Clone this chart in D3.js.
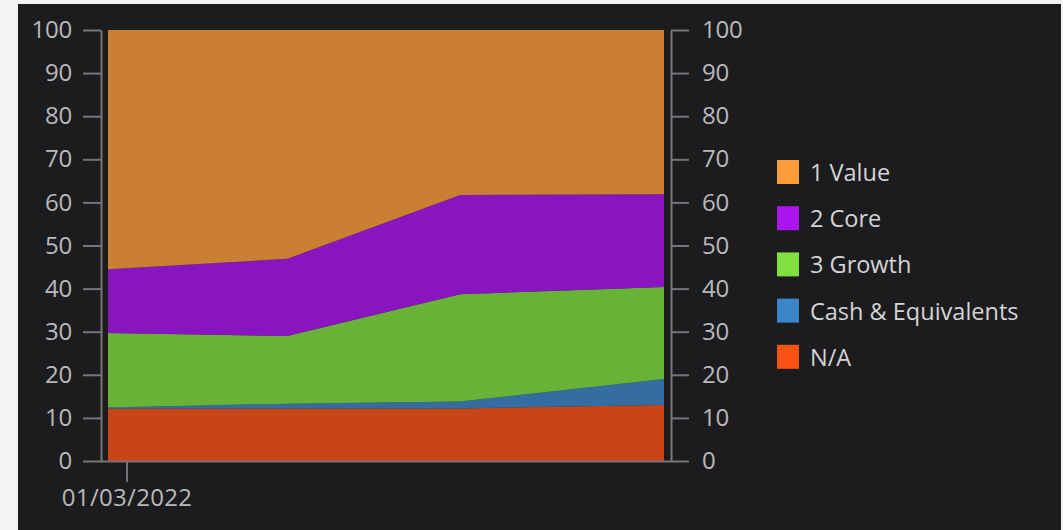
<!DOCTYPE html>
<html>
<head>
<meta charset="utf-8">
<script src="https://cdn.jsdelivr.net/npm/d3@7"></script>
<style>
  html, body { margin: 0; padding: 0; background: #f3f3f3; }
  svg { display: block; }
  text { font-family: "Open Sans", sans-serif; }
</style>
</head>
<body>
<div id="chart"></div>
<script>
// data (percent of portfolio, stacked bottom to top)
var dates = ["2021-12-31", "2022-01-29", "2022-02-26", "2022-03-31"];
var seriesNames = ["N/A", "Cash & Equivalents", "3 Growth", "2 Core", "1 Value"];
var naValues = [12.1, 12.2, 12.2, 13.0];
var cashValues = [0.3, 1.1, 1.6, 6.0];
var growthValues = [17.3, 15.7, 24.9, 21.4];
var coreValues = [14.8, 17.9, 23.0, 21.5];
var valueValues = [55.5, 53.1, 38.3, 38.1];
var yTicks = [0, 10, 20, 30, 40, 50, 60, 70, 80, 90, 100];
var xTickDates = ["2022-01-03"];
var legendOrder = ["1 Value", "2 Core", "3 Growth", "Cash & Equivalents", "N/A"];

var colors = {
    "1 Value": "#ff9d38",
    "2 Core": "#a914ef",
    "3 Growth": "#7fe03f",
    "Cash & Equivalents": "#3a86c8",
    "N/A": "#fb5214"
};

var width = 1063, height = 530;
var parse = d3.timeParse("%Y-%m-%d");
var fmt = d3.timeFormat("%m/%d/%Y");

// build rows for the stack
var rows = dates.map(function(d, i){
    return {
        date: parse(d),
        "N/A": naValues[i],
        "Cash & Equivalents": cashValues[i],
        "3 Growth": growthValues[i],
        "2 Core": coreValues[i],
        "1 Value": valueValues[i]
    };
});

var svg = d3.select("#chart").append("svg")
    .attr("width", width)
    .attr("height", height);

// dark panel
svg.append("rect")
    .attr("x", 18).attr("y", 4)
    .attr("width", 1043).attr("height", height - 4)
    .attr("fill", "#1c1c1e");

var x = d3.scaleTime()
    .domain(d3.extent(rows, function(d){ return d.date; }))
    .range([108, 664]);

var y = d3.scaleLinear()
    .domain([0, 100])
    .range([461, 30]);

var stack = d3.stack().keys(seriesNames);
var layers = stack(rows);

var area = d3.area()
    .x(function(d){ return x(d.data.date); })
    .y0(function(d){ return y(d[0]); })
    .y1(function(d){ return y(d[1]); });

svg.append("g")
    .selectAll("path")
    .data(layers)
    .enter()
    .append("path")
    .attr("d", area)
    .attr("fill", function(d){ return colors[d.key]; })
    .attr("fill-opacity", 0.77);

var axisColor = "#76767a";
var labelColor = "#b9b9bb";

// left axis
var leftAxis = svg.append("g")
    .attr("transform", "translate(101,0)")
    .call(d3.axisLeft(y).tickValues(yTicks).tickSize(18).tickPadding(11).tickSizeOuter(0));

// right axis
var rightAxis = svg.append("g")
    .attr("transform", "translate(671,0)")
    .call(d3.axisRight(y).tickValues(yTicks).tickSize(18).tickPadding(13).tickSizeOuter(0));

// bottom axis
var bottomAxis = svg.append("g")
    .attr("transform", "translate(0,461)")
    .call(d3.axisBottom(x)
        .tickValues(xTickDates.map(parse))
        .tickFormat(fmt)
        .tickSize(21)
        .tickPadding(7)
        .tickSizeOuter(0));
bottomAxis.select(".domain").attr("d", "M101,0.5H671");

[leftAxis, rightAxis, bottomAxis].forEach(function(g){
    g.selectAll(".domain").attr("stroke", axisColor).attr("stroke-width", 2);
    g.selectAll(".tick line").attr("stroke", axisColor).attr("stroke-width", 2);
    g.selectAll(".tick text")
        .attr("fill", labelColor)
        .style("font-size", "24px")
        .style("letter-spacing", "-0.2px");
});
bottomAxis.selectAll(".tick text").style("letter-spacing", "0.3px");

// legend
var legend = svg.append("g")
    .selectAll("g")
    .data(legendOrder)
    .enter()
    .append("g")
    .attr("transform", function(d, i){ return "translate(777," + (160 + i * 46.2) + ")"; });

legend.append("rect")
    .attr("width", 22)
    .attr("height", 24)
    .attr("fill", function(d){ return colors[d]; });

legend.append("text")
    .attr("x", 33)
    .attr("y", 21)
    .attr("fill", "#d4d4d6")
    .style("font-size", "23.5px")
    .style("letter-spacing", "0px")
    .text(function(d){ return d; });
</script>
</body>
</html>
